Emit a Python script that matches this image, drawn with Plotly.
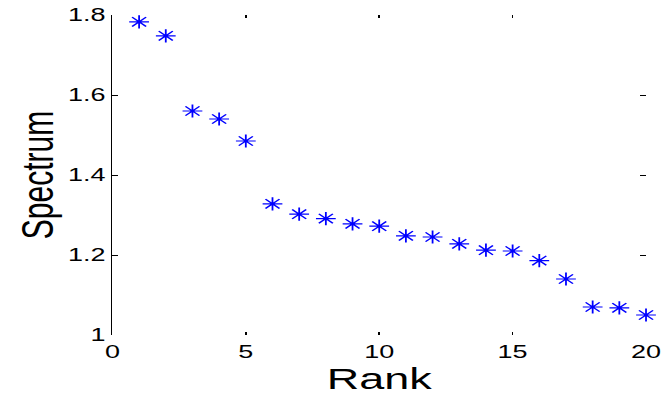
import plotly.graph_objects as go

# Ranked spectrum values
rank = list(range(1, 21))
spectrum = [1.783, 1.748, 1.560, 1.540, 1.485, 1.328, 1.302, 1.291, 1.278, 1.272,
            1.248, 1.245, 1.228, 1.212, 1.210, 1.186, 1.140, 1.070, 1.068, 1.050]

x_ticks = [0, 5, 10, 15, 20]
y_ticks = [1, 1.2, 1.4, 1.6, 1.8]
y_tick_text = ["1", "1.2", "1.4", "1.6", "1.8"]

font_family = "Liberation Sans, Arial, sans-serif"

# The figure is laid out narrow and widened horizontally on the page
BASE_W = 445
PAGE_W = 667
STRETCH = PAGE_W / BASE_W

fig = go.Figure()
fig.add_trace(go.Scatter(
    x=rank, y=spectrum, mode="markers",
    marker=dict(symbol="asterisk-open", size=11, color="#0000ff",
                line=dict(color="#0000ff", width=1.2)),
    cliponaxis=False, showlegend=False,
))
# empty trace that carries the right-hand tick marks
fig.add_trace(go.Scatter(x=[None], y=[None], yaxis="y2", showlegend=False))

fig.update_layout(
    width=BASE_W, height=401,
    margin=dict(l=75, r=14, t=15, b=66, autoexpand=False),
    paper_bgcolor="white", plot_bgcolor="white",
    font=dict(family=font_family, color="black"),
    xaxis=dict(
        range=[0, 20], tickvals=x_ticks, ticktext=[str(v) for v in x_ticks],
        ticks="inside", ticklen=3, tickwidth=1, tickcolor="black",
        mirror="ticks", showline=False, showgrid=False, zeroline=False,
        automargin=False, ticklabelstandoff=4,
        tickfont=dict(size=18),
        title=dict(text="Rank", font=dict(size=30), standoff=6),
    ),
    yaxis=dict(
        range=[1, 1.8], tickvals=y_ticks, ticktext=y_tick_text,
        ticks="inside", ticklen=4, tickwidth=1, tickcolor="black",
        showline=True, linecolor="black", linewidth=1,
        showgrid=False, zeroline=False, automargin=False,
        tickfont=dict(size=18),
        title=dict(text="Spectrum", font=dict(size=30), standoff=0),
    ),
    yaxis2=dict(
        range=[1, 1.8], tickvals=y_ticks, overlaying="y", side="right",
        ticks="inside", ticklen=4, tickwidth=1, tickcolor="black",
        showticklabels=False, showline=False, showgrid=False, zeroline=False,
        automargin=False,
    ),
)

widen = (
    "var gd = document.getElementById('{plot_id}');"
    "gd.style.transformOrigin = '0 0';"
    "gd.style.transform = 'scaleX(%.5f)';" % STRETCH
)

fig.write_html("out.html", post_script=widen)
